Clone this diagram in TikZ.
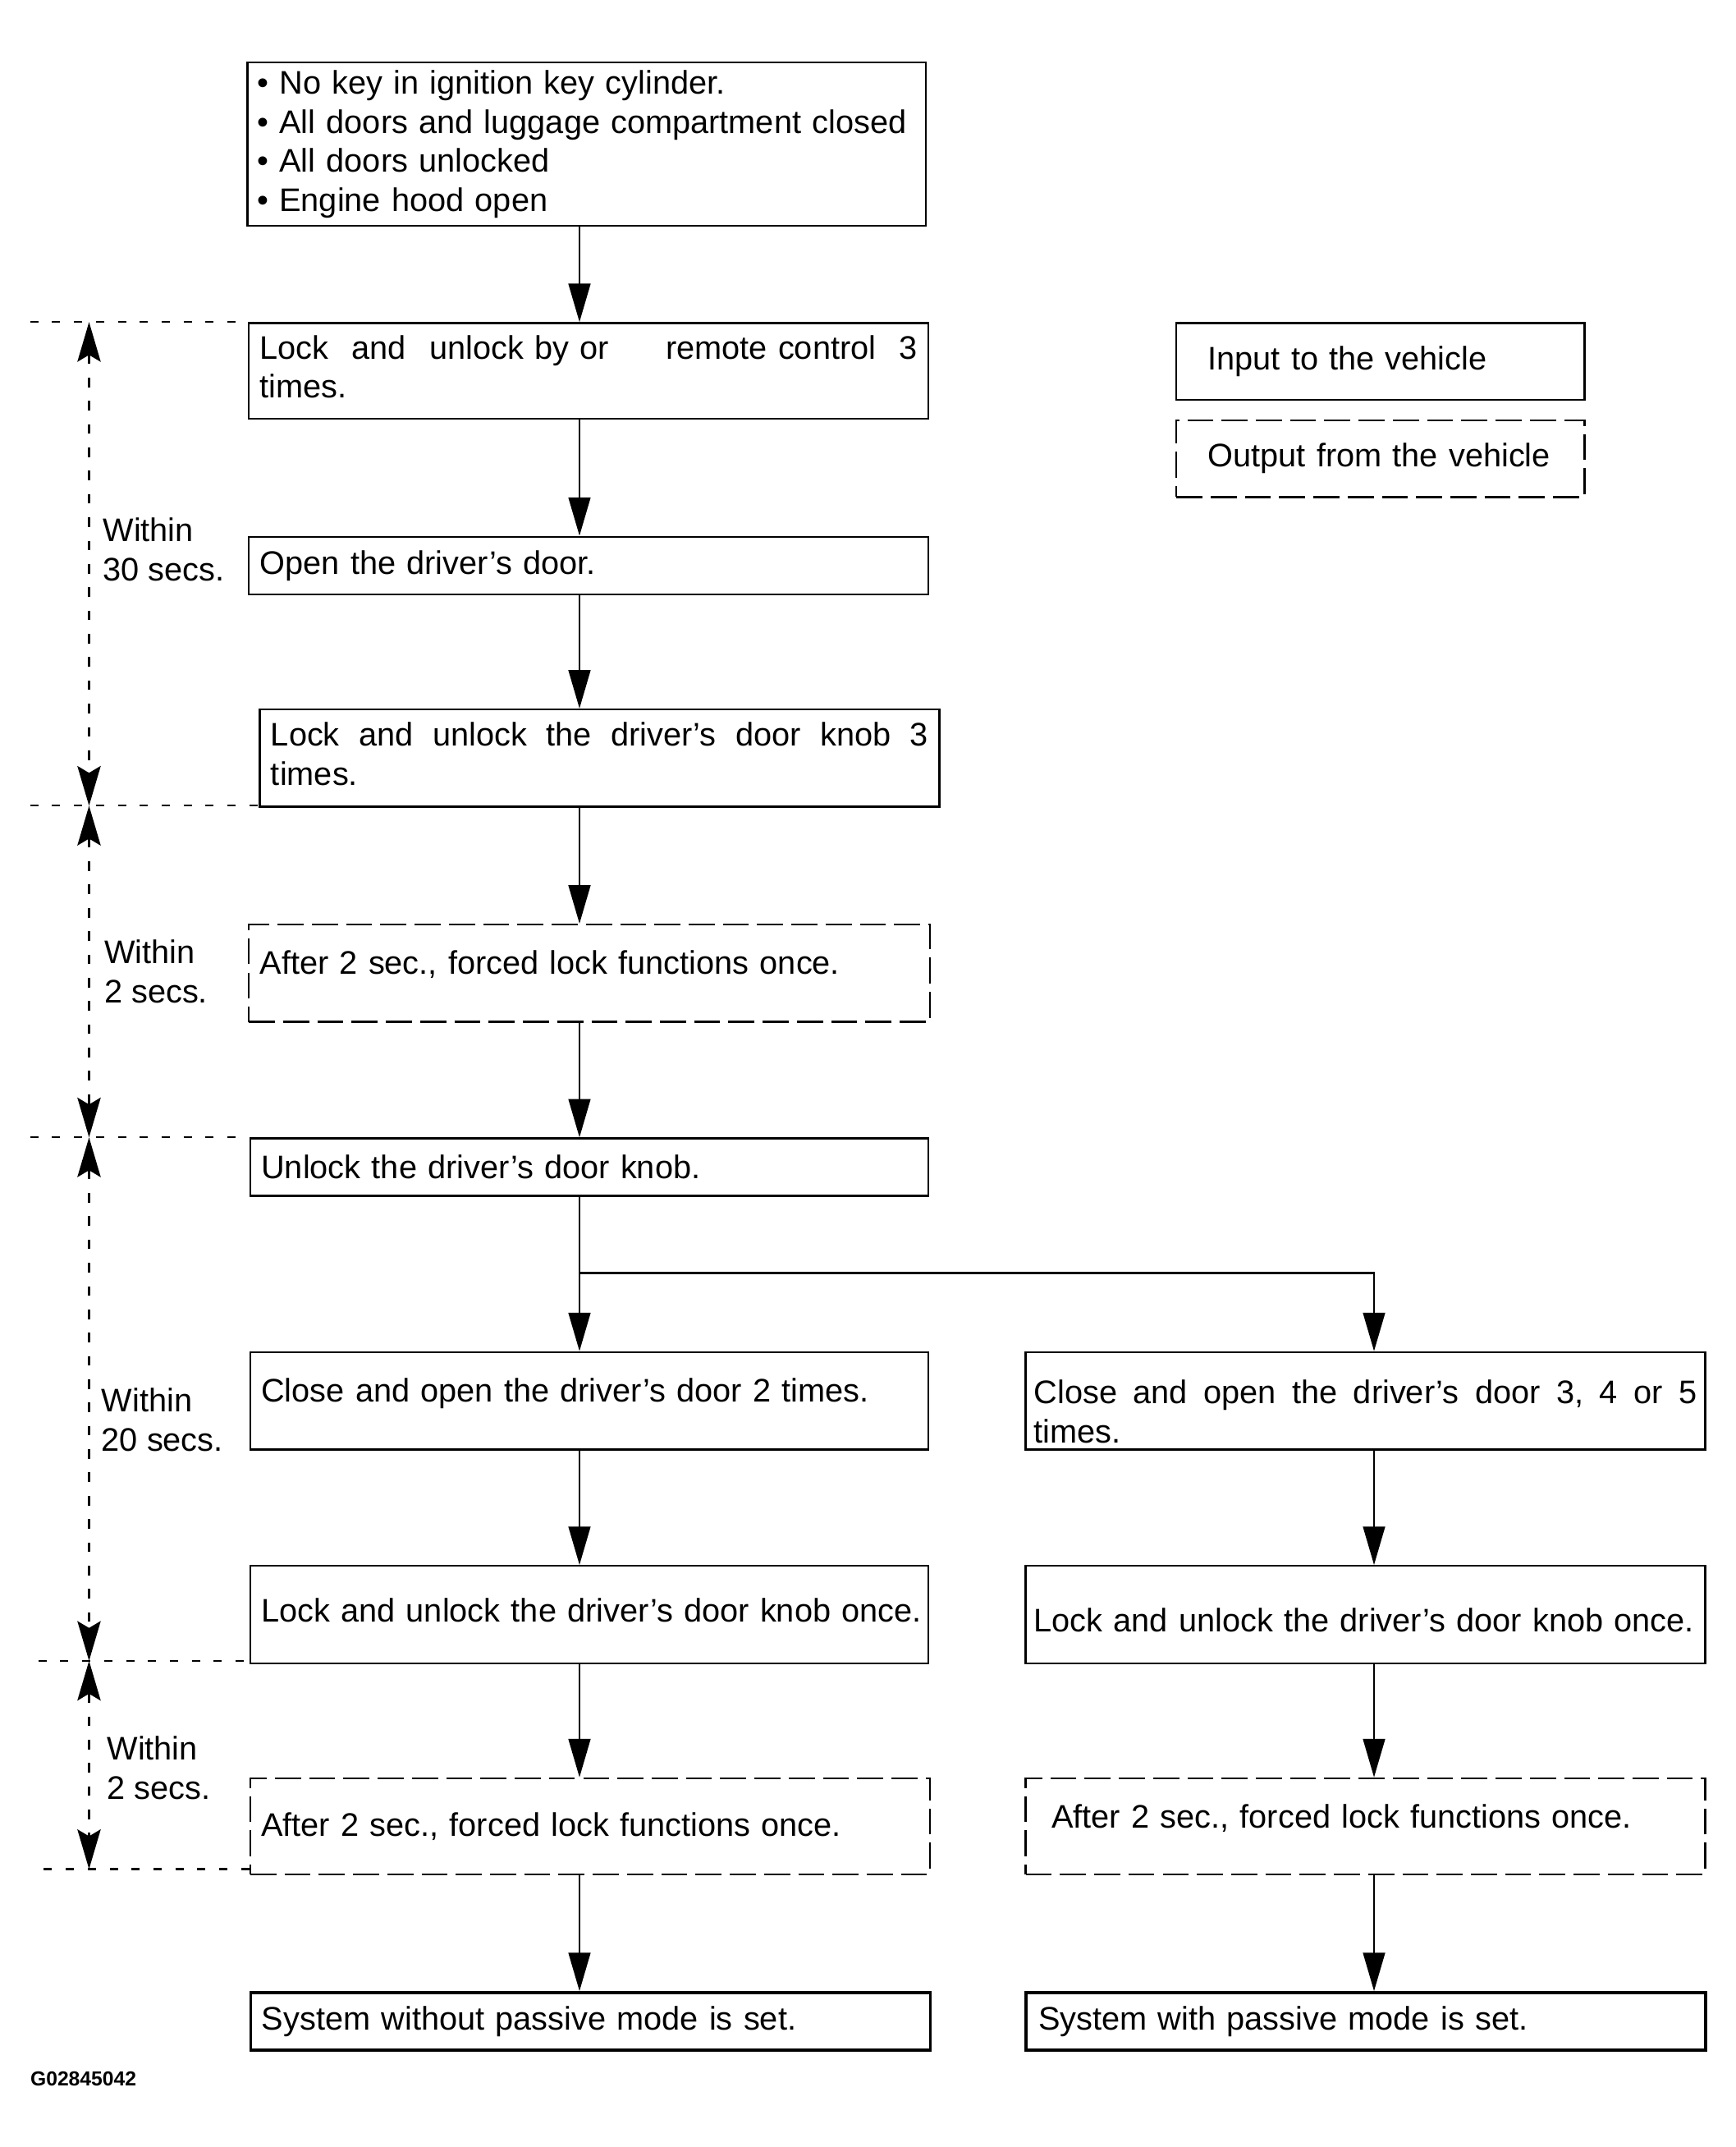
\documentclass[tikz,border=0pt]{standalone}
\usepackage{fontspec}
\setmainfont{Liberation Sans}
\usetikzlibrary{arrows.meta}
\newcommand{\up}[2]{\raisebox{#1}[\height][\depth]{#2}}
\begin{document}
\begin{tikzpicture}[x=1pt,y=-1pt,
  font=\fontsize{23.8}{28.5}\selectfont,
  box/.style={draw,line width=1.4pt,rectangle,anchor=north west,inner xsep=8pt,inner ysep=0pt,align=left},
  outbox/.style={box,dash pattern=on 19pt off 6pt},
  endbox/.style={box,line width=2.2pt},
  arr/.style={line width=1.4pt,-{Triangle[length=28pt,width=16pt]}},
  tarr/.style={line width=1.3pt,dash pattern=on 7pt off 10pt,{Stealth[length=29pt,width=17pt,inset=5pt]}-{Stealth[length=29pt,width=17pt,inset=5pt]}},
  tline/.style={line width=1.3pt,dash pattern=on 6pt off 10pt},
  tlabel/.style={anchor=west,inner sep=0pt,align=left}]
\useasboundingbox[fill=white] (0,0) rectangle (1267.2,1566.8);

% left column boxes
\node[box,inner xsep=7pt,text width=481pt,minimum height=119pt] (b1) at (180,45)
  {• No key in ignition key cylinder.\\\mbox{• All doors and luggage compartment closed}\\• All doors unlocked\\• Engine hood open};
\node[box,text width=480pt,minimum height=70pt] (b2) at (181,235)
  {\up{3pt}{\parbox{\linewidth}{Lock\hfill and\hfill unlock by or\hfill\hfill\ remote control\hfill 3\\times.}}};
\node[box,text width=480pt,minimum height=42pt] (b3) at (181,391)
  {Open the driver’s door.};
\node[box,text width=480pt,minimum height=71pt] (b4) at (189,517)
  {\up{3pt}{\parbox{\linewidth}{Lock\hfill and\hfill unlock\hfill the\hfill driver’s\hfill door\hfill knob\hfill 3\\times.}}};
\node[outbox,text width=481pt,minimum height=71pt] (b5) at (181,674)
  {\up{6.5pt}{\mbox{After 2 sec., forced lock functions once.}}};
\node[box,text width=479pt,minimum height=42pt] (b6) at (182,830)
  {Unlock the driver’s door knob.};
\node[box,text width=479pt,minimum height=71pt] (b7L) at (182,986)
  {\up{5.5pt}{\mbox{Close and open the driver’s door 2 times.}}};
\node[box,text width=479pt,minimum height=71pt] (b8L) at (182,1142)
  {\up{3pt}{\mbox{Lock and unlock the driver’s door knob once.}}};
\node[outbox,text width=480pt,minimum height=70pt] (b9L) at (182,1297)
  {\mbox{After 2 sec., forced lock functions once.}};
\node[endbox,text width=480pt,minimum height=42pt] (b10L) at (182,1453)
  {\mbox{System without passive mode is set.}};

% right column boxes
\node[box,inner xsep=6pt,text width=484pt,minimum height=71pt] (b7R) at (748,986)
  {\up{-8pt}{\parbox{\linewidth}{Close\hfill and\hfill open\hfill the\hfill driver’s\hfill door\hfill 3,\hfill 4\hfill or\hfill 5\\times.}}};
\node[box,inner xsep=6pt,text width=484pt,minimum height=71pt] (b8R) at (748,1142)
  {\up{-4pt}{\mbox{Lock and unlock the driver’s door knob once.}}};
\node[outbox,inner xsep=19pt,text width=458pt,minimum height=70pt] (b9R) at (748,1297)
  {\up{5.5pt}{\mbox{After 2 sec., forced lock functions once.}}};
\node[endbox,inner xsep=9pt,text width=478pt,minimum height=42pt] (b10R) at (748,1453)
  {\mbox{System with passive mode is set.}};

% legend
\node[box,inner xsep=23pt,text width=252pt,minimum height=56pt] (lin) at (858,235)
  {\mbox{Input to the vehicle}};
\node[outbox,inner xsep=23pt,text width=252pt,minimum height=56pt] (lout) at (858,306)
  {\mbox{Output from the vehicle}};

% connectors
\coordinate (colL) at (423,0);
\coordinate (colR) at (1003,0);
\coordinate (j) at (423,929);
\draw[arr] (b1.south -| colL) -- (b2.north -| colL);
\draw[arr] (b2.south -| colL) -- (b3.north -| colL);
\draw[arr] (b3.south -| colL) -- (b4.north -| colL);
\draw[arr] (b4.south -| colL) -- (b5.north -| colL);
\draw[arr] (b5.south -| colL) -- (b6.north -| colL);
\draw[arr] (b6.south -| colL) -- (b7L.north -| colL);
\draw[arr] (j) -| (b7R.north -| colR);
\draw[arr] (b7L.south -| colL) -- (b8L.north -| colL);
\draw[arr] (b8L.south -| colL) -- (b9L.north -| colL);
\draw[arr] (b9L.south -| colL) -- (b10L.north -| colL);
\draw[arr] (b7R.south -| colR) -- (b8R.north -| colR);
\draw[arr] (b8R.south -| colR) -- (b9R.north -| colR);
\draw[arr] (b9R.south -| colR) -- (b10R.north -| colR);

% timing
\coordinate (h1) at (22,235);
\coordinate (h2) at (22,588);
\coordinate (h3) at (22,830);
\coordinate (h4) at (28,1212);
\coordinate (h5) at (32,1364);
\coordinate (v1) at (65,235);
\coordinate (v2) at (65,588);
\coordinate (v3) at (65,830);
\coordinate (v4) at (65,1212);
\coordinate (v5) at (65,1364);
\draw[tline] (h1) -- (h1 -| b2.west);
\draw[tline] (h2) -- (h2 -| b4.west);
\draw[tline] (h3) -- (h3 -| b6.west);
\draw[tline] (h4) -- (h4 -| b8L.west);
\draw[tline] (h5) -- (h5 -| b9L.west);
\draw[tarr] (v1) -- (v2);
\draw[tarr] (v2) -- (v3);
\draw[tarr] (v3) -- (v4);
\draw[tarr] (v4) -- (v5);
\node[tlabel] (w1) at (75,401) {Within\\30 secs.};
\node[tlabel] (w2) at (76,709) {Within\\2 secs.};
\node[tlabel] (w3) at (74,1036) {Within\\20 secs.};
\node[tlabel] (w4) at (78,1290) {Within\\2 secs.};

\node[anchor=west,inner sep=0pt,font=\fontsize{14.8}{17}\selectfont\bfseries] (gid) at (22,1517) {G02845042};
\end{tikzpicture}
\end{document}
